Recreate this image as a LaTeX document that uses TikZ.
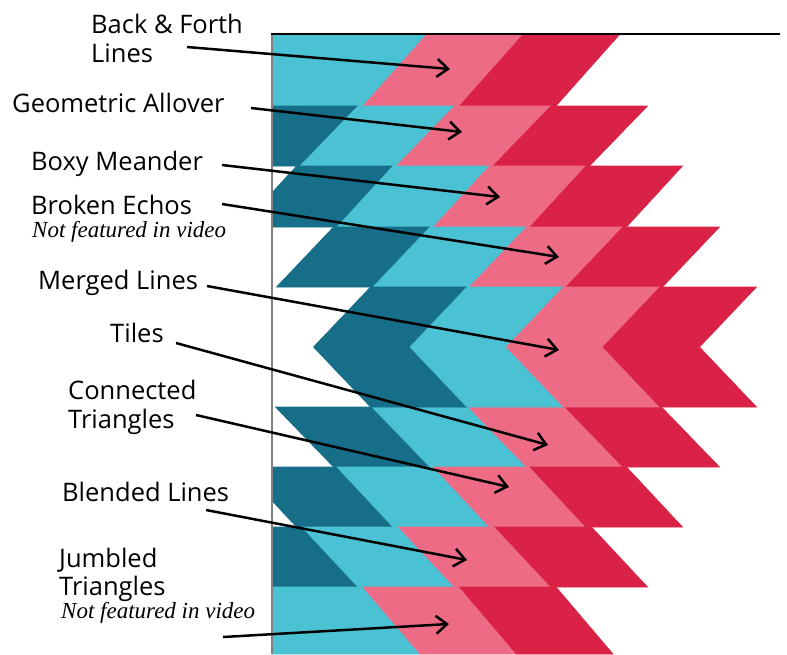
\documentclass[tikz,border=0pt]{standalone}
\usepackage{fontspec}
\setmainfont{Open Sans}
\newfontfamily\notefont{Liberation Serif}
\usetikzlibrary{arrows.meta}

\definecolor{quiltdark}{HTML}{166E88}
\definecolor{quiltcyan}{HTML}{4AC2D4}
\definecolor{quiltpink}{HTML}{EE6B86}
\definecolor{quiltred}{HTML}{DA2247}

\begin{document}
\begin{tikzpicture}[
    x=1pt, y=-1pt,
    label/.style={anchor=base west, inner sep=0pt, align=left, font=\fontsize{25.5}{29}\selectfont},
    note/.style={anchor=base west, inner sep=0pt, font=\notefont\itshape\fontsize{23}{26}\selectfont},
    pointer/.style={-{Straight Barb[length=11pt, width=18pt]}, line width=2.5pt}
]
\useasboundingbox (0,0) rectangle (787,654);

% quilt rows
\begin{scope}
    \clip (272,34) rectangle (787,654);
    \foreach \yt/\yb/\a/\b/\first in {34/106/330.5/266.5/quiltcyan, 106/166/358/300/quiltdark,
        166/227/393/337/quiltdark, 227/287/430/373/quiltdark, 407/467/372/430/quiltdark,
        467/527/337/393/quiltdark, 527/587/302/358/quiltdark, 587/654/266.5/323.5/quiltcyan}{
        \foreach \k/\col in {0/\first, 1/quiltcyan, 2/quiltpink, 3/quiltred}{
            \filldraw[fill=\col, draw=\col, line width=0.6pt]
                (\a+\k*96.5-96.5,\yt) -- (\a+\k*96.5,\yt) -- (\b+\k*96.5,\yb) -- (\b+\k*96.5-96.5,\yb) -- cycle;
        }
    }
    % chevron band
    \foreach \k/\col in {0/quiltdark, 1/quiltcyan, 2/quiltpink, 3/quiltred}{
        \filldraw[fill=\col, draw=\col, line width=0.6pt]
            (467+\k*96.5-96.5,287) -- (467+\k*96.5,287) -- (410+\k*96.5,347) -- (467+\k*96.5,407)
            -- (467+\k*96.5-96.5,407) -- (410+\k*96.5-96.5,347) -- cycle;
    }
\end{scope}
\draw[gray, line width=1.2pt] (272,34) -- (272,654);
\draw[line width=2pt] (271,34) -- (780,34);

% labels
\node[label] (l1) at (91,62) {Back \& Forth\\Lines};
\node[label] (l2) at (12,112) {Geometric Allover};
\node[label] (l3) at (31,170) {Boxy Meander};
\node[label] (l4) at (31,214.5) {Broken Echos};
\node[note] (n4) at (32,237.5) {Not featured in video};
\node[label] (l5) at (38,289) {Merged Lines};
\node[label] (l6) at (110,342) {Tiles};
\node[label] (l7) at (68,428) {Connected\\Triangles};
\node[label] (l8) at (62,501) {Blended Lines};
\node[label, font=\fontsize{25.5}{28}\selectfont] (l9) at (59,595) {Jumbled\\Triangles};
\node[note] (n9) at (61,618) {Not featured in video};

\coordinate (s1) at (187,47);  \coordinate (t1) at (450,69);
\coordinate (s2) at (251,108); \coordinate (t2) at (462,132);
\coordinate (s3) at (222,165); \coordinate (t3) at (500,197);
\coordinate (s4) at (222,204); \coordinate (t4) at (559,257);
\coordinate (s5) at (207,286); \coordinate (t5) at (559,350);
\coordinate (s6) at (176,343); \coordinate (t6) at (548,445);
\coordinate (s7) at (196,415); \coordinate (t7) at (509,487);
\coordinate (s8) at (206,510); \coordinate (t8) at (467,560);
\coordinate (s9) at (223,637); \coordinate (t9) at (449,624);

\foreach \i in {1,...,9}
    \draw[pointer] (s\i) -- (t\i);

\end{tikzpicture}
\end{document}
